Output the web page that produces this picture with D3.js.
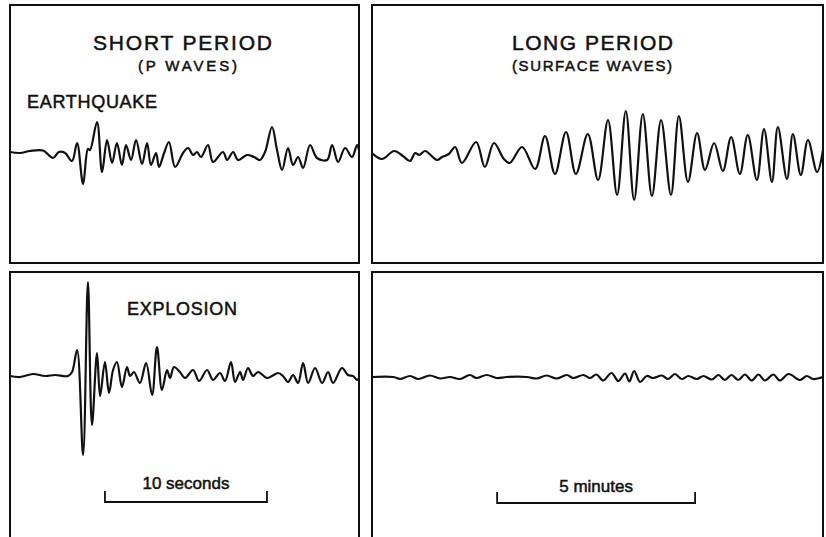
<!DOCTYPE html>
<html>
<head>
<meta charset="utf-8">
<script src="https://cdn.jsdelivr.net/npm/d3@7"></script>
<style>
  body { margin: 0; background: #fff; }
  text { font-family: "Liberation Sans", Arial, sans-serif; fill: #111; stroke: #111; stroke-width: 0.5px; }
</style>
</head>
<body>
<script>
var svgWidth = 826;
var svgHeight = 537;

// seismogram traces, [time, amplitude]
// short period: time in seconds, long period: time in minutes
var quakeShort = [
  [0,0],[0.62,-0.1],[1.23,0.1],[2.04,0.15],[2.65,-0.6],[3.02,0],[3.4,-0.1],[3.83,-0.9],
  [4.14,0.9],[4.51,-3.2],[4.81,0.3],[4.94,0.2],[5.37,3.0],[5.68,-2.0],[5.99,1.2],[6.3,-1.1],
  [6.6,0.9],[6.91,-1.3],[7.16,0.7],[7.47,-0.8],[7.78,1.2],[8.15,-1.2],[8.46,0.9],[8.7,-1.3],
  [9.01,-0.1],[9.2,-1.5],[9.51,-0.1],[9.81,1.0],[10.19,-1.5],[10.68,-0.1],[10.99,0.4],
  [11.3,-0.3],[11.54,0],[11.79,-0.5],[12.22,0.7],[12.53,-1.0],[13.15,0],[13.4,-0.8],
  [13.77,0],[14.07,-0.8],[14.63,-0.3],[15.06,-0.5],[15.43,-0.8],[15.74,0],[16.17,2.5],
  [16.48,0.2],[16.79,-1.8],[17.16,0.4],[17.47,-1.3],[17.78,-0.5],[18.09,-1.6],[18.52,0.7],
  [18.95,-0.6],[19.57,-0.8],[19.88,0.7],[20.25,-1.0],[20.68,0.4],[21.11,-0.5],[21.42,0.7],[21.54,0.2]
];
var blastShort = [
  [0,0],[0.62,-0.1],[1.42,0.2],[2.16,0],[2.78,0.1],[3.58,0],[3.83,0.4],[4.14,2.6],
  [4.51,-7.9],[4.81,9.4],[5.06,-4.9],[5.37,2.3],[5.56,-2.0],[5.86,1.4],[6.11,-1.7],
  [6.36,0.6],[6.6,1.4],[6.91,-1.1],[7.22,0.9],[7.41,0],[7.65,0.4],[8.02,-0.7],[8.4,1.3],
  [8.77,-1.9],[9.07,2.9],[9.38,-1.4],[9.69,0.6],[9.88,-0.2],[10.12,0.9],[10.49,0.4],
  [10.8,-0.2],[11.3,0.6],[11.67,-0.5],[12.16,0.6],[12.53,-0.4],[12.96,0.3],[13.27,-0.5],
  [13.64,1.4],[13.89,-0.6],[14.2,0.4],[14.38,-0.4],[14.69,0.8],[15.0,0],[15.31,0.4],
  [15.86,-0.2],[16.17,0],[16.54,0.3],[16.85,0],[17.16,-0.6],[17.47,0.1],[17.78,-0.7],
  [18.09,1.3],[18.4,-0.7],[18.83,0.8],[19.26,-0.7],[19.63,0.4],[19.94,-0.7],[20.49,0.8],
  [20.86,0.1],[21.17,0],[21.42,-0.4],[21.54,-0.2]
];
var quakeLong = [
  [0,0.2],[0.25,-0.4],[0.56,0.4],[0.78,-0.1],[0.96,-0.6],[1.09,0.2],[1.19,0],[1.34,0.4],
  [1.64,-0.5],[1.77,-0.2],[1.94,0.1],[2.1,0.8],[2.27,-0.8],[2.63,1.3],[2.85,-1.2],[3.08,1.2],
  [3.33,-0.4],[3.48,-0.8],[3.79,0.8],[4.12,-1.4],[4.37,1.9],[4.62,-1.9],[4.9,2.3],[5.15,-1.9],
  [5.45,2.1],[5.71,-2.5],[5.96,3.5],[6.19,-4.0],[6.41,4.4],[6.62,-4.5],[6.84,4.1],[7.07,-4.1],
  [7.3,3.5],[7.55,-4.0],[7.75,3.9],[7.98,-2.7],[8.21,2.2],[8.41,-1.5],[8.64,1.2],[8.86,-1.6],
  [9.07,1.8],[9.29,-1.9],[9.49,2.0],[9.72,-2.5],[9.9,2.6],[10.1,-2.7],[10.25,2.8],[10.48,-2.4],
  [10.63,2.1],[10.83,-2.0],[11.01,1.5],[11.24,-1.7],[11.39,0.5]
];
var blastLong = [
  [0,0],[0.54,0],[0.71,-0.2],[0.96,0.1],[1.17,-0.2],[1.46,0.15],[1.72,-0.15],[1.97,0],
  [2.22,-0.2],[2.47,0.2],[2.64,-0.1],[2.9,0.2],[3.15,-0.1],[3.4,0],[3.91,0],[4.16,-0.15],
  [4.41,0.15],[4.66,-0.15],[4.92,0.2],[5.08,-0.1],[5.34,0.2],[5.51,-0.1],[5.67,0.25],
  [5.84,-0.35],[6.05,0.4],[6.22,-0.4],[6.39,0.35],[6.5,-0.45],[6.62,0.6],[6.77,-0.5],
  [6.94,0.1],[7.1,-0.1],[7.32,0.15],[7.48,-0.2],[7.65,0.3],[7.82,-0.2],[7.99,0.1],
  [8.2,-0.2],[8.37,0.1],[8.58,-0.25],[8.75,0.2],[8.91,-0.3],[9.08,0.2],[9.25,-0.3],
  [9.42,0.25],[9.59,-0.35],[9.76,0.25],[9.92,-0.35],[10.14,0.25],[10.3,-0.35],[10.52,0.3],
  [10.81,-0.3],[10.98,0.1],[11.14,-0.2],[11.39,0]
];

var titles = ["SHORT PERIOD", "LONG PERIOD"];
var subtitles = ["(P WAVES)", "(SURFACE WAVES)"];
var eventNames = ["EARTHQUAKE", "EXPLOSION"];
var scaleLabels = ["10 seconds", "5 minutes"];
var scaleLengths = [10, 5];
var scaleStarts = [5.86, 3.16];
var timeSpans = [21.54, 11.39];

var svg = d3.select("body")
  .append("svg")
  .attr("width", svgWidth)
  .attr("height", svgHeight);

// panel frames
var cols = [{x0: 10, x1: 359}, {x0: 372, x1: 823}];
var rows = [{y0: 5, y1: 263}, {y0: 272, y1: 560}];
var baselines = [[152, 155], [376, 377]];

cols.forEach(function(c) {
  rows.forEach(function(r) {
    svg.append("rect")
      .attr("x", c.x0).attr("y", r.y0)
      .attr("width", c.x1 - c.x0).attr("height", r.y1 - r.y0)
      .attr("fill", "none")
      .attr("stroke", "#111")
      .attr("stroke-width", 2);
  });
});

// time scales, one per column
var xScales = cols.map(function(c, i) {
  return d3.scaleLinear().domain([0, timeSpans[i]]).range([c.x0, c.x1]);
});

var traces = [[quakeShort, quakeLong], [blastShort, blastLong]];

traces.forEach(function(row, ri) {
  row.forEach(function(data, ci) {
    var base = baselines[ri][ci];
    var y = d3.scaleLinear().domain([-1, 1]).range([base + 10, base - 10]);
    var line = d3.line()
      .x(d => xScales[ci](d[0]))
      .y(d => y(d[1]))
      .curve(d3.curveCatmullRom.alpha(0.5));
    svg.append("path")
      .datum(data)
      .attr("d", line)
      .attr("fill", "none")
      .attr("stroke", "#111")
      .attr("stroke-width", 2.2)
      .attr("stroke-linejoin", "round");
  });
});

// headings
var titleSpots = [{x: 93, w: 179}, {x: 512, w: 161}];
var subSpots = [{x: 138, w: 99}, {x: 512, w: 160}];
titles.forEach(function(t, i) {
  svg.append("text")
    .attr("x", titleSpots[i].x).attr("y", 50)
    .attr("font-size", 21)
    .attr("textLength", titleSpots[i].w)
    .attr("lengthAdjust", "spacing")
    .text(t);
  svg.append("text")
    .attr("x", subSpots[i].x).attr("y", 71)
    .attr("font-size", 15)
    .attr("textLength", subSpots[i].w)
    .attr("lengthAdjust", "spacing")
    .text(subtitles[i]);
});

var eventSpots = [{x: 27, y: 108, w: 130}, {x: 127, y: 315, w: 110}];
eventNames.forEach(function(t, i) {
  svg.append("text")
    .attr("x", eventSpots[i].x).attr("y", eventSpots[i].y)
    .attr("font-size", 18)
    .attr("textLength", eventSpots[i].w)
    .attr("lengthAdjust", "spacing")
    .text(t);
});

// time scale bars
var barY = [502, 503];
var labelY = [489, 492];
scaleLabels.forEach(function(t, i) {
  var xa = xScales[i](scaleStarts[i]);
  var xb = xScales[i](scaleStarts[i] + scaleLengths[i]);
  svg.append("path")
    .attr("d", `M${xa},${barY[i] - 11}V${barY[i]}H${xb}V${barY[i] - 11}`)
    .attr("fill", "none")
    .attr("stroke", "#111")
    .attr("stroke-width", 1.8);
  svg.append("text")
    .attr("x", (xa + xb) / 2).attr("y", labelY[i])
    .attr("text-anchor", "middle")
    .attr("font-size", 17)
    .text(t);
});
</script>
</body>
</html>
